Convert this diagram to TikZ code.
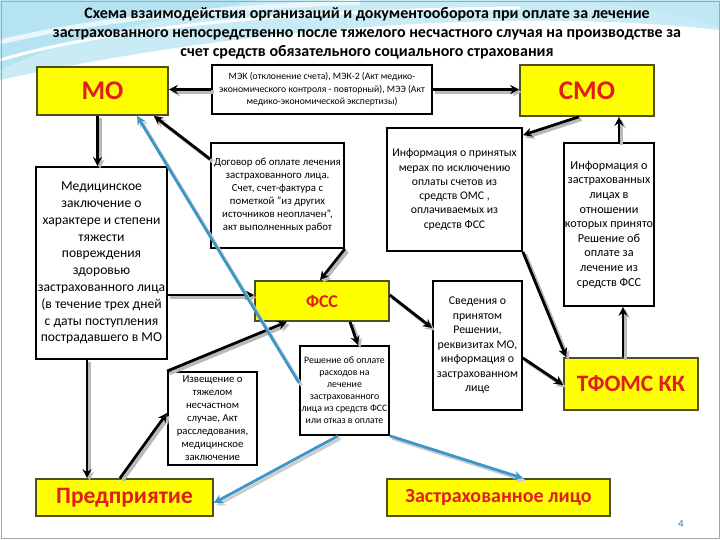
\documentclass[tikz,border=0pt]{standalone}
\usepackage{fontspec}
\setmainfont{Carlito}
\usetikzlibrary{arrows.meta,calc}
\definecolor{ylw}{RGB}{255,255,0}
\definecolor{ylwborder}{RGB}{80,80,30}
\definecolor{redtxt}{RGB}{225,30,30}
\definecolor{bluearr}{RGB}{60,150,200}
\definecolor{swA}{RGB}{200,235,245}
\definecolor{swB}{RGB}{150,215,235}
\definecolor{pgnum}{RGB}{70,120,160}
\tikzset{
  ybox/.style={draw=ylwborder, line width=1.6pt, fill=ylw, inner sep=0pt, align=center,
    font=\bfseries, text=redtxt},
  wbox/.style={draw=black, line width=1.8pt, fill=white, inner sep=0pt, align=center},
  blk/.style={line width=2.8pt, draw=black, -{Stealth[length=9pt,width=9pt]}},
  blkshadow/.style={line width=3.4pt, draw=gray!55, -{Stealth[length=9pt,width=9pt]}},
  blu/.style={line width=2.8pt, draw=bluearr, -{Stealth[length=9pt,width=9pt]}},
  blushadow/.style={line width=3pt, draw=gray!40, -{Stealth[length=9pt,width=9pt]}}
}
\newcommand\myconn[3][blk]{%
  \draw[#1shadow, transform canvas={xshift=2.5pt,yshift=-2.5pt}] #2 -- #3;
  \draw[#1] #2 -- #3;}
\begin{document}
\begin{tikzpicture}[x=1pt,y=-1pt]
\useasboundingbox (0,0) rectangle (720,540);
\fill[white] (0,0) rectangle (720,540);
% background swoosh
\fill[swA] (0,0) -- (720,0) -- (720,30) .. controls (520,8) and (250,25) .. (0,80) -- cycle;
\fill[swB!70] (0,0) -- (260,0) .. controls (150,20) and (60,40) .. (0,70) -- cycle;
\fill[swB!60] (560,0) -- (720,0) -- (720,28) .. controls (680,12) and (620,4) .. (560,0) -- cycle;
\draw[white, line width=3pt] (0,60) .. controls (120,25) and (300,10) .. (520,8);
\draw[white!60!swA, line width=5pt] (0,42) .. controls (100,18) and (220,8) .. (360,2);
\draw[gray!70, line width=0.8pt] (1,1) rectangle (719,538);

% title
\node[font=\bfseries\fontsize{16}{19}\selectfont, align=center] (title) at (367,33)
 {Схема взаимодействия организаций и документооборота при оплате за лечение\\
  застрахованного непосредственно после тяжелого несчастного случая на производстве за\\
  счет средств обязательного социального страхования};

% yellow boxes
\node[ybox, minimum width=131pt, minimum height=48pt, font=\bfseries\fontsize{27}{30}\selectfont] (MO) at (102.5,91) {МО};
\node[ybox, minimum width=134pt, minimum height=51pt, font=\bfseries\fontsize{27}{30}\selectfont] (CMO) at (587,90.5) {СМО};
\node[ybox, minimum width=134pt, minimum height=40pt, font=\bfseries\fontsize{18}{22}\selectfont] (FSS) at (322,301) {ФСС};
\node[ybox, minimum width=134pt, minimum height=52pt, font=\bfseries\fontsize{23.5}{26}\selectfont] (TFOMS) at (631,384) {ТФОМС КК};
\node[ybox, minimum width=177pt, minimum height=37pt, font=\bfseries\fontsize{23.5}{26}\selectfont] (Pred) at (124.5,497.5) {Предприятие};
\node[ybox, minimum width=223pt, minimum height=37pt, font=\bfseries\fontsize{20}{22}\selectfont] (Zastr) at (498.5,497.5) {Застрахованное лицо};

% white boxes
\node[wbox, minimum width=220pt, minimum height=49pt, font=\fontsize{9.7}{12.5}\selectfont] (MEK) at (322,89.5)
 {МЭК (отклонение счета), МЭК-2 (Акт медико-\\экономического контроля - повторный), МЭЭ (Акт\\медико-экономической экспертизы)};
\node[wbox, minimum width=133pt, minimum height=105pt, font=\fontsize{10.8}{13}\selectfont] (Dog) at (277.5,195.5)
 {Договор об оплате лечения\\застрахованного лица.\\Счет, счет-фактура с\\пометкой "из других\\источников неоплачен",\\акт выполненных работ};
\node[wbox, minimum width=135pt, minimum height=123pt, font=\fontsize{11.7}{14.3}\selectfont] (InfoM) at (454.5,189.5)
 {Информация о принятых\\мерах по исключению\\оплаты  счетов из\\средств ОМС ,\\оплачиваемых из\\средств ФСС};
\node[wbox, minimum width=90pt, minimum height=163pt, font=\fontsize{12.2}{14.6}\selectfont] (InfoZ) at (609,224.5)
 {Информация о\\застрахованных\\лицах в\\отношении\\которых принято\\Решение об\\оплате за\\лечение из\\средств ФСС};
\node[wbox, minimum width=131pt, minimum height=192pt, font=\fontsize{13.6}{16.8}\selectfont] (Med) at (101.5,263)
 {Медицинское\\заключение о\\характере и степени\\тяжести\\повреждения\\здоровью\\застрахованного лица\\(в течение трех дней\\с даты поступления\\пострадавшего в МО};
\node[wbox, minimum width=89pt, minimum height=129pt, font=\fontsize{11.8}{14.5}\selectfont] (Sved) at (477.5,345.5)
 {Сведения о\\принятом\\Решении,\\реквизитах МО,\\информация о\\застрахованном\\лице};
\node[wbox, minimum width=89pt, minimum height=89pt, font=\fontsize{9.8}{12}\selectfont] (Resh) at (344.5,390.5)
 {Решение об оплате\\расходов на\\лечение\\застрахованного\\лица из средств ФСС\\или отказ в оплате};
\node[wbox, minimum width=89pt, minimum height=93pt, font=\fontsize{10.7}{13}\selectfont] (Izv) at (212.5,418.5)
 {Извещение о\\тяжелом\\несчастном\\случае, Акт\\расследования,\\медицинское\\заключение};

\node[text=pgnum, font=\fontsize{11}{13}\selectfont] (pg) at (681,524) {4};

% black connectors
\myconn{(MEK.west)}{(MEK.west -| MO.east)}
\myconn{(MEK.east)}{(MEK.east -| CMO.west)}
\myconn{([xshift=-5pt]MO.south)}{([xshift=-5pt]MO.south |- Med.north)}
\myconn{([yshift=-17pt]Dog.north west)}{([xshift=-15pt]MO.south east)}
\myconn{(Dog.south east)}{([xshift=-2pt]FSS.north)}
\myconn{([xshift=-8pt]CMO.south)}{([yshift=-8pt]InfoM.north east)}
\myconn{([xshift=10pt]InfoZ.north)}{([xshift=10pt]InfoZ.north |- CMO.south)}
\myconn{(InfoM.south east)}{([xshift=3pt]TFOMS.north west)}
\myconn{([xshift=-8pt]TFOMS.north)}{([xshift=-8pt]TFOMS.north |- InfoZ.south)}
\myconn{([yshift=-32pt]Med.east)}{([yshift=-32pt]Med.east -| FSS.west)}
\myconn{(Izv.north west)}{([xshift=-35pt]FSS.south)}
\myconn{([xshift=-14.5pt]Med.south)}{([xshift=-14.5pt]Med.south |- Pred.north)}
\myconn{([xshift=-4.5pt]Pred.north)}{([yshift=5.5pt]Izv.west)}
\myconn{([xshift=28pt]FSS.south)}{([xshift=13.5pt]Resh.north)}
\myconn{([yshift=6pt]FSS.east)}{([yshift=17.5pt]Sved.west)}
\myconn{([yshift=-12.5pt]Sved.east)}{([yshift=-1pt]TFOMS.west)}

% blue connectors
\myconn[blu]{([yshift=7.5pt]Resh.west)}{([xshift=34.5pt]MO.south)}
\myconn[blu]{([xshift=-6.5pt]Resh.south)}{([yshift=-5.5pt]Pred.east)}
\myconn[blu]{(Resh.south east)}{([xshift=24.5pt]Zastr.north)}
\end{tikzpicture}
\end{document}
